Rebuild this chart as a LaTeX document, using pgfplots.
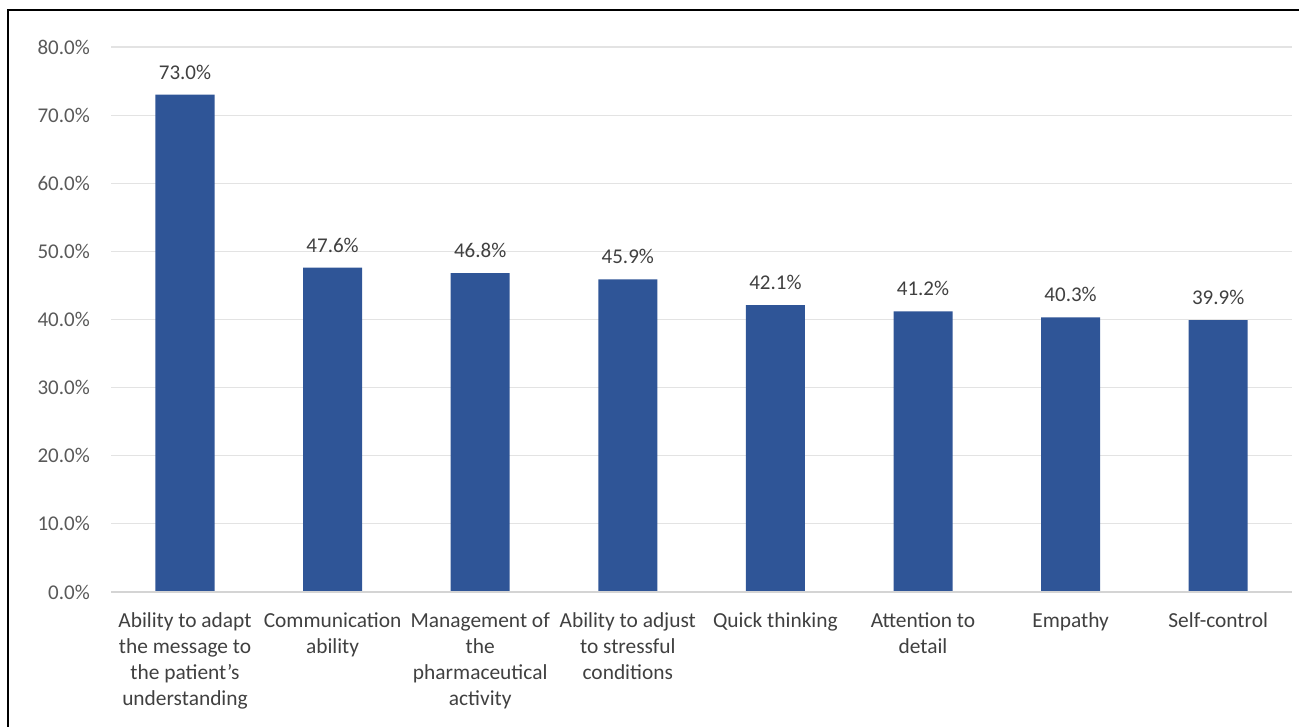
\documentclass[border=0pt]{standalone}
\usepackage{fontspec}
\setmainfont{Carlito}
\usepackage{pgfplots}
\pgfplotsset{compat=1.18}
\definecolor{barblue}{HTML}{2F5597}
\definecolor{tickgray}{HTML}{595959}
\definecolor{labgray}{HTML}{404040}
\definecolor{gridgray}{HTML}{E3E3E3}
\definecolor{axgray}{HTML}{D4D4D4}
\begin{document}
\begin{tikzpicture}
\path[use as bounding box] (-55.6pt,-67.5pt) rectangle (593.9pt,296pt);
\draw[black, line width=1.1pt] (593.9pt,291pt) -- (-51.6pt,291pt) -- (-51.6pt,-68pt);
\begin{axis}[
  at={(0,0)}, anchor=south west,
  scale only axis, width=590.4pt, height=272.5pt,
  xmin=-0.5, xmax=7.5, ymin=0, ymax=80,
  ytick={0,10,...,80},
  xtick={0,...,7},
  xticklabels={{Ability to adapt\\the message to\\the patient’s\\understanding},
    {Communication\\ability},
    {Management of\\the\\pharmaceutical\\activity},
    {Ability to adjust\\to stressful\\conditions},
    {Quick thinking},
    {Attention to\\detail},
    {Empathy},
    {Self-control}},
  axis line style={draw=none},
  major tick length=0pt,
  ymajorgrids, grid style={gridgray, line width=0.6pt},
  /pgf/number format/assume math mode=true,
  yticklabel={\pgfmathprintnumber[fixed,fixed zerofill,precision=1]{\tick}\%},
  yticklabel style={font=\fontsize{10.5}{12}\selectfont, text=tickgray, anchor=east, inner sep=0pt, xshift=-10.5pt},
  xticklabel style={font=\fontsize{10.7}{13}\selectfont, text=labgray, align=center, anchor=north, inner sep=0pt, yshift=-10.3pt},
  clip=false,
]
\addplot[ybar, bar width=29.5pt, fill=barblue, draw=none,
  nodes near coords={\pgfmathprintnumber[fixed,fixed zerofill,precision=1]{\pgfplotspointmeta}\%},
  nodes near coords style={font=\fontsize{10.5}{12}\selectfont, text=labgray, anchor=south, inner sep=0pt, yshift=7.5pt},
  /pgf/number format/assume math mode=true]
  coordinates {(0,73.0) (1,47.6) (2,46.8) (3,45.9) (4,42.1) (5,41.2) (6,40.3) (7,39.9)};
\draw[axgray, line width=1pt] (axis cs:-0.5,0) -- (axis cs:7.5,0);
\end{axis}
\end{tikzpicture}
\end{document}
